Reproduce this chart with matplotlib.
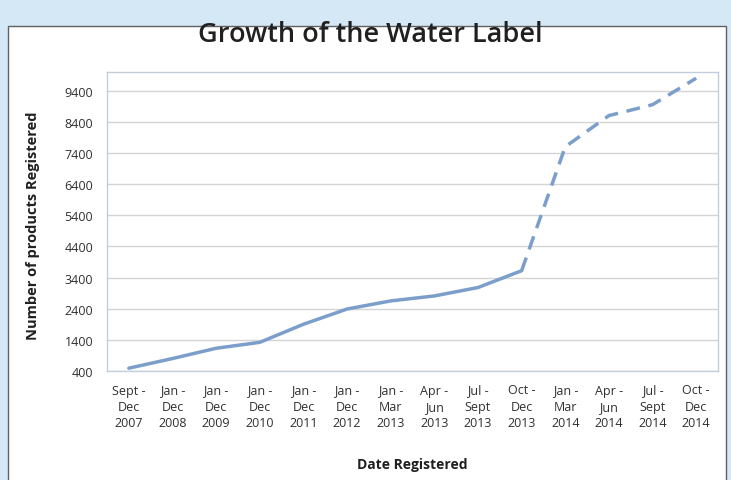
import matplotlib.pyplot as plt
from matplotlib.patches import Rectangle

periods = ['Sept -\nDec\n2007', 'Jan -\nDec\n2008', 'Jan -\nDec\n2009', 'Jan -\nDec\n2010',
           'Jan -\nDec\n2011', 'Jan -\nDec\n2012', 'Jan -\nMar\n2013', 'Apr -\nJun\n2013',
           'Jul -\nSept\n2013', 'Oct -\nDec\n2013', 'Jan -\nMar\n2014', 'Apr -\nJun\n2014',
           'Jul -\nSept\n2014', 'Oct -\nDec\n2014']
products = [490, 800, 1130, 1320, 1900, 2390, 2650, 2810, 3080, 3620, 7600, 8600, 8950, 9800]
# the last four periods are drawn dashed
solid_end = 9
y_ticks = list(range(400, 9401, 1000))

plt.rcParams['font.family'] = ['Open Sans', 'DejaVu Sans']

fig = plt.figure(figsize=(7.31, 4.81), dpi=100)
fig.patch.set_facecolor('#d5e8f6')
fig.patches.append(Rectangle((8 / 731, -0.01), 718 / 731, 1.01 - 27 / 481, transform=fig.transFigure,
                             facecolor='white', edgecolor='#606060', linewidth=1.0, zorder=-10))

ax = fig.add_axes([107 / 731, 1 - 372 / 481, 611 / 731, 299 / 481])
ax.set_zorder(5)
ax.set_facecolor('white')

x = list(range(len(periods)))
color = '#7c9ecb'
ax.plot(x[:solid_end + 1], products[:solid_end + 1], color=color, linewidth=2.5,
        solid_capstyle='round', zorder=3)
ax.plot(x[solid_end:], products[solid_end:], color=color, linewidth=2.5,
        linestyle=(0, (4, 2.5)), zorder=3)

ax.set_xlim(-0.5, len(periods) - 0.5)
ax.set_ylim(400, 10000)
ax.set_yticks(y_ticks)
ax.set_yticklabels([str(v) for v in y_ticks], fontsize=9, color='#303030')
ax.set_xticks(x)
ax.set_xticklabels(periods, fontsize=9, color='#303030', linespacing=1.32)
ax.tick_params(length=0)
ax.tick_params(axis='y', pad=10)
ax.tick_params(axis='x', pad=9)
ax.grid(axis='y', color='#d4d4d4', linewidth=1.0)
ax.set_axisbelow(True)
for s in ax.spines.values():
    s.set_color('#c3cedd')
    s.set_linewidth(1.0)

ax.set_xlabel('Date Registered', fontsize=10, fontweight='bold', color='#202020')
ax.xaxis.set_label_coords(0.5, (372 - 458) / 299)
ax.set_ylabel('Number of products Registered', fontsize=10.5, fontweight='bold', color='#202020')
ax.yaxis.label.set_va('center')
ax.yaxis.set_label_coords((33 - 107) / 611, 0.49)
fig.text(370 / 731, 1 - 35 / 481, 'Growth of the Water Label', ha='center', va='center',
         fontsize=19.5, fontweight='semibold', color='#202020')

fig.savefig('out.png', dpi=100, facecolor=fig.get_facecolor())
